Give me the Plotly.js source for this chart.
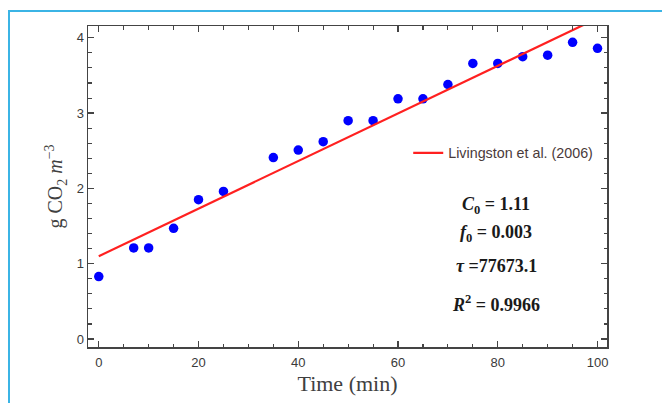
<!DOCTYPE html>
<html>
<head>
<meta charset="utf-8">
<script src="https://cdn.plot.ly/plotly-3.0.1.min.js"></script>
<style>
  html, body { margin: 0; padding: 0; background: #fff; }
  #chart { width: 662px; height: 403px; }
  #frame { position: absolute; left: 8px; top: 10px; width: 700px; height: 420px;
           border-left: 2px solid #3bb4e5; border-top: 2px solid #3bb4e5; pointer-events: none; }
</style>
</head>
<body>
<div id="chart"></div>
<div id="frame"></div>
<script>
// Measured data
const timeMin = [0, 7, 10, 15, 20, 25, 35, 40, 45, 50, 55, 60, 65, 70, 75, 80, 85, 90, 95, 100];
const co2 = [0.83, 1.21, 1.21, 1.47, 1.85, 1.96, 2.41, 2.51, 2.62, 2.90, 2.90, 3.19, 3.19, 3.38, 3.66, 3.66, 3.75, 3.77, 3.94, 3.86];
// Fitted model line (Livingston et al. 2006)
const fitX = [0, 100];
const fitY = [1.10, 4.26];
const seriesName = "Livingston et al. (2006)";
const paramLabels = [
  "<i>C</i><sub>0</sub> = 1.11",
  "<i>f</i><sub>0</sub> = 0.003",
  "<i>τ</i> =77673.1",
  "<i>R</i><sup>2</sup> = 0.9966"
];

const axisColor = "#444444";
const tickFont = { family: "Liberation Sans, Arial, sans-serif", size: 13, color: "#3a3a3a" };

const traces = [
  {
    x: timeMin, y: co2, type: "scatter", mode: "markers",
    marker: { color: "#0000ff", size: 9.5 },
    showlegend: false, cliponaxis: true
  },
  {
    x: fitX, y: fitY, type: "scatter", mode: "lines",
    line: { color: "#ff2020", width: 2.2 },
    name: seriesName
  }
];

const paramY = [0.441, 0.355, 0.252, 0.137];
const annotations = paramLabels.map((t, i) => ({
  text: "<b>" + t + "</b>", xref: "paper", yref: "paper",
  x: 0.787, y: paramY[i], xanchor: "center", yanchor: "middle",
  showarrow: false,
  font: { family: "Liberation Serif, Times New Roman, serif", size: 18, color: "#1a1a1a" }
}));

const layout = {
  width: 662, height: 403,
  margin: { l: 87.5, r: 54.5, t: 26, b: 56, pad: 0 },
  paper_bgcolor: "#ffffff", plot_bgcolor: "#ffffff",
  xaxis: {
    range: [-2.16, 101.9], tickvals: [0, 20, 40, 60, 80, 100],
    ticks: "inside", ticklen: 6, tickwidth: 1.3, tickcolor: axisColor,
    minor: { dtick: 5, tick0: 0, ticks: "inside", ticklen: 3.5, tickwidth: 1.1, tickcolor: axisColor, showgrid: false },
    showline: true, linecolor: axisColor, linewidth: 1.5, mirror: "ticks",
    showgrid: false, zeroline: false, tickfont: tickFont, ticklabelstandoff: 3,
    title: { text: "Time (min)", standoff: 6,
      font: { family: "Liberation Serif, Times New Roman, serif", size: 22, color: "#404040" } }
  },
  yaxis: {
    range: [-0.106, 4.157], tickvals: [0, 1, 2, 3, 4],
    ticks: "inside", ticklen: 6, tickwidth: 1.3, tickcolor: axisColor,
    minor: { dtick: 0.2, tick0: 0, ticks: "inside", ticklen: 3.5, tickwidth: 1.1, tickcolor: axisColor, showgrid: false },
    showline: true, linecolor: axisColor, linewidth: 1.5, mirror: "ticks",
    showgrid: false, zeroline: false, tickfont: tickFont,
    title: { text: "g CO<sub>2</sub> <i>m</i><sup>−3</sup>", standoff: 8,
      font: { family: "Liberation Serif, Times New Roman, serif", size: 20, color: "#404040" } }
  },
  showlegend: true,
  legend: {
    x: 0.617, y: 0.604, xanchor: "left", yanchor: "middle",
    bgcolor: "rgba(255,255,255,0)", borderwidth: 0,
    font: { family: "Liberation Sans, Arial, sans-serif", size: 14.3, color: "#4a3a3a" }
  },
  annotations: annotations
};

Plotly.newPlot("chart", traces, layout, { displayModeBar: false, staticPlot: true });
</script>
</body>
</html>
